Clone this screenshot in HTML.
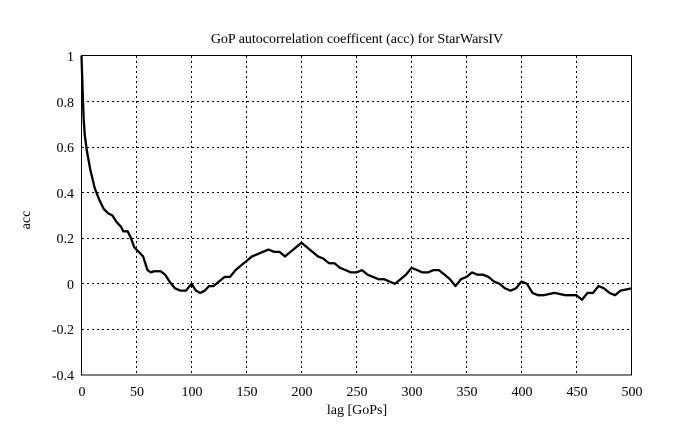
<!DOCTYPE html>
<html><head><meta charset="utf-8"><style>
html,body{margin:0;padding:0;background:#fff;}
svg{display:block;font-family:"Liberation Serif",serif;}
</style></head><body>
<svg width="689" height="433" viewBox="0 0 689 433">
<rect width="689" height="433" fill="#fff"/>
<g stroke="#000" stroke-width="1" stroke-dasharray="2,3" fill="none">
<line x1="136.5" y1="56" x2="136.5" y2="375"/>
<line x1="191.5" y1="56" x2="191.5" y2="375"/>
<line x1="246.5" y1="56" x2="246.5" y2="375"/>
<line x1="301.5" y1="56" x2="301.5" y2="375"/>
<line x1="356.5" y1="56" x2="356.5" y2="375"/>
<line x1="411.5" y1="56" x2="411.5" y2="375"/>
<line x1="466.5" y1="56" x2="466.5" y2="375"/>
<line x1="521.5" y1="56" x2="521.5" y2="375"/>
<line x1="576.5" y1="56" x2="576.5" y2="375"/>
<line x1="82" y1="101.5" x2="632" y2="101.5"/>
<line x1="82" y1="147.5" x2="632" y2="147.5"/>
<line x1="82" y1="192.5" x2="632" y2="192.5"/>
<line x1="82" y1="238.5" x2="632" y2="238.5"/>
<line x1="82" y1="283.5" x2="632" y2="283.5"/>
<line x1="82" y1="329.5" x2="632" y2="329.5"/>
</g>
<rect x="81.5" y="55.5" width="550" height="319.5" fill="none" stroke="#000" stroke-width="1"/>
<g transform="translate(81.5,283.8) scale(1.1,-228.1)">
<path vector-effect="non-scaling-stroke" fill="none" stroke="#000" stroke-width="2.3" stroke-linejoin="round" d="M0,1 L1,0.85 L2,0.72 L3,0.65 L5,0.58 L8,0.5 L12,0.42 L16,0.37 L20,0.33 L24,0.31 L28,0.3 L32,0.27 L36,0.25 L38,0.23 L42,0.23 L45,0.2 L48,0.16 L52,0.14 L56,0.12 L58,0.09 L60,0.06 L63,0.05 L66,0.055 L72,0.055 L76,0.04 L80,0.01 L85,-0.02 L90,-0.03 L95,-0.03 L100,0 L104,-0.03 L108,-0.04 L112,-0.03 L116,-0.01 L120,-0.01 L125,0.01 L130,0.03 L135,0.03 L140,0.06 L145,0.08 L150,0.1 L155,0.12 L160,0.13 L165,0.14 L170,0.15 L175,0.14 L180,0.14 L185,0.12 L190,0.14 L195,0.16 L200,0.18 L205,0.16 L210,0.14 L215,0.12 L220,0.11 L225,0.09 L230,0.09 L235,0.07 L240,0.06 L245,0.05 L250,0.05 L255,0.06 L260,0.04 L265,0.03 L270,0.02 L275,0.02 L280,0.01 L285,0 L290,0.02 L295,0.04 L300,0.07 L305,0.06 L310,0.05 L315,0.05 L320,0.06 L325,0.06 L330,0.04 L335,0.02 L340,-0.01 L345,0.02 L350,0.03 L355,0.05 L360,0.04 L365,0.04 L370,0.03 L375,0.01 L380,0 L385,-0.02 L390,-0.03 L395,-0.02 L400,0.01 L405,0 L410,-0.04 L415,-0.05 L420,-0.05 L430,-0.04 L440,-0.05 L450,-0.05 L455,-0.07 L460,-0.04 L465,-0.04 L470,-0.01 L475,-0.02 L480,-0.04 L485,-0.05 L490,-0.03 L500,-0.02"/>
</g>
<g font-size="14" fill="#000" text-anchor="end">
<text x="74" y="61">1</text>
<text x="74" y="107">0.8</text>
<text x="74" y="152">0.6</text>
<text x="74" y="198">0.4</text>
<text x="74" y="243">0.2</text>
<text x="74" y="289">0</text>
<text x="74" y="334">-0.2</text>
<text x="74" y="380">-0.4</text>
</g>
<g font-size="14" fill="#000" text-anchor="middle">
<text x="82" y="396">0</text>
<text x="137" y="396">50</text>
<text x="192" y="396">100</text>
<text x="247" y="396">150</text>
<text x="302" y="396">200</text>
<text x="357" y="396">250</text>
<text x="412" y="396">300</text>
<text x="467" y="396">350</text>
<text x="522" y="396">400</text>
<text x="577" y="396">450</text>
<text x="632" y="396">500</text>
<text x="357" y="414">lag [GoPs]</text>
<text x="357" y="43">GoP autocorrelation coefficent (acc) for StarWarsIV</text>
<text transform="translate(30,220) rotate(-90)">acc</text>
</g>
</svg>
</body></html>
